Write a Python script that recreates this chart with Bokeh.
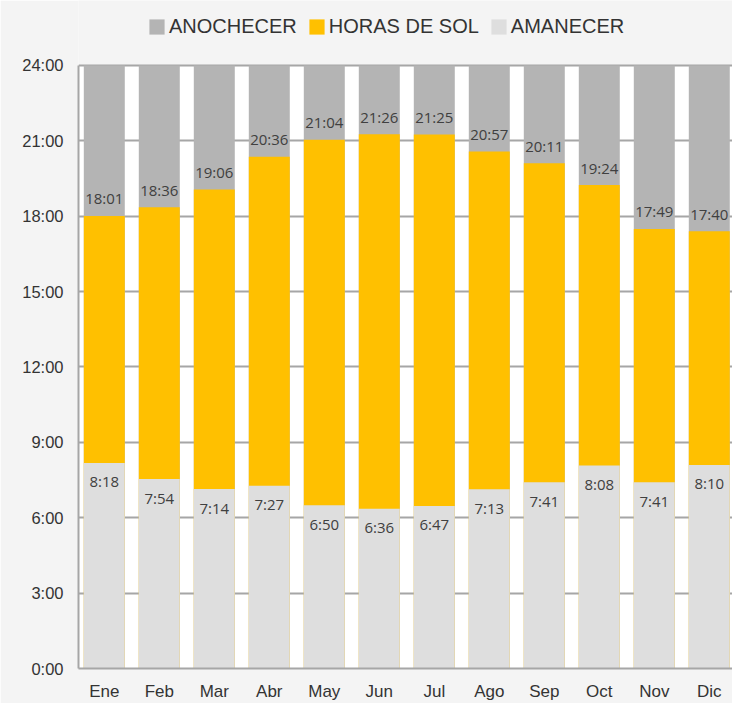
from bokeh.plotting import figure
from bokeh.models import (ColumnDataSource, Range1d, FixedTicker, LabelSet,
                          Legend, LegendItem, BoxAnnotation)
from bokeh.core.properties import value
from bokeh.embed import file_html
from bokeh.resources import INLINE

# ---- data ----
months = ["Ene", "Feb", "Mar", "Abr", "May", "Jun", "Jul", "Ago", "Sep", "Oct", "Nov", "Dic"]
amanecer_labels = ["8:18", "7:54", "7:14", "7:27", "6:50", "6:36", "6:47", "7:13", "7:41", "8:08", "7:41", "8:10"]
anochecer_labels = ["18:01", "18:36", "19:06", "20:36", "21:04", "21:26", "21:25", "20:57", "20:11", "19:24", "17:49", "17:40"]
amanecer = [8.18, 7.54, 7.14, 7.27, 6.50, 6.36, 6.47, 7.13, 7.41, 8.08, 7.41, 8.10]
anochecer = [18.01, 18.36, 19.06, 20.36, 21.04, 21.26, 21.25, 20.57, 20.11, 19.24, 17.49, 17.40]
dia = [24] * 12
y_ticks = [0, 3, 6, 9, 12, 15, 18, 21, 24]
y_tick_labels = ["0:00", "3:00", "6:00", "9:00", "12:00", "15:00", "18:00", "21:00", "24:00"]

x = list(range(len(months)))
src = ColumnDataSource(dict(x=x, amanecer=amanecer, anochecer=anochecer, dia=dia,
                            am_lab=amanecer_labels, an_lab=anochecer_labels))

C_NOCHE = "#b4b4b4"
C_SOL = "#ffc000"
C_AM = "#dedede"
GRID = "#a6a6a6"
TXT = "#333333"
PAGE_BG = "#f4f4f4"

H, BOTTOM = 703, 34
y_top = 24 * (H - BOTTOM) / (H - BOTTOM - 65)   # leaves room for the legend above 24:00

p = figure(width=732, height=H, output_backend="svg", toolbar_location=None,
           x_range=Range1d(-0.469, 11.422), y_range=Range1d(0, y_top),
           min_border_left=78, min_border_right=0, min_border_top=0, min_border_bottom=BOTTOM)
p.background_fill_color = PAGE_BG
p.border_fill_color = PAGE_BG
p.outline_line_color = None

# white chart area (0:00 – 24:00), drawn beneath the grid
p.add_layout(BoxAnnotation(bottom=0, top=max(y_ticks), fill_color="white", fill_alpha=1,
                           line_color=None, level="image"))

W = 0.745
r_noche = p.vbar(x="x", top="dia", bottom=0, width=W, source=src, fill_color=C_NOCHE, line_color=None)
r_sol = p.vbar(x="x", top="anochecer", bottom=0, width=W, source=src, fill_color=C_SOL, line_color=None)
r_am = p.vbar(x="x", top="amanecer", bottom=0, width=W, source=src, fill_color=C_AM, line_color=None)

lab_font = value("Open Sans")
p.add_layout(LabelSet(x="x", y="anochecer", text="an_lab", source=src, text_align="center",
                      text_baseline="middle", y_offset=17.5, text_font=lab_font,
                      text_font_size=value("15px"), text_color=value("#404040")))
p.add_layout(LabelSet(x="x", y="amanecer", text="am_lab", source=src, text_align="center",
                      text_baseline="middle", y_offset=-18.5, text_font=lab_font,
                      text_font_size=value("15px"), text_color=value("#404040")))

# axes
p.xaxis.ticker = FixedTicker(ticks=x)
p.xaxis.major_label_overrides = {i: m for i, m in zip(x, months)}
p.yaxis.ticker = FixedTicker(ticks=y_ticks)
p.yaxis.major_label_overrides = {t: l for t, l in zip(y_ticks, y_tick_labels)}
p.yaxis.bounds = (0, max(y_ticks))
for ax in (p.xaxis, p.yaxis):
    ax.axis_line_color = GRID
    ax.axis_line_width = 2
    ax.major_tick_line_color = None
    ax.minor_tick_line_color = None
    ax.major_tick_out = 0
    ax.major_tick_in = 0
    ax.major_label_text_font = "Liberation Sans"
    ax.major_label_text_color = TXT
p.xaxis.major_label_text_font_size = "17px"
p.xaxis.major_label_standoff = 13
p.yaxis.major_label_text_font_size = "16.5px"
p.yaxis.major_label_standoff = 15

p.xgrid.grid_line_color = None
p.ygrid.ticker = FixedTicker(ticks=y_ticks)
p.ygrid.grid_line_color = GRID
p.ygrid.grid_line_width = 2

legend = Legend(items=[LegendItem(label="ANOCHECER", renderers=[r_noche]),
                       LegendItem(label="HORAS DE SOL", renderers=[r_sol]),
                       LegendItem(label="AMANECER", renderers=[r_am])],
                orientation="horizontal", location=(69, 630),
                padding=0, margin=0, spacing=10, label_standoff=3, label_width=0,
                glyph_width=19, glyph_height=19, label_height=19,
                border_line_color=None, background_fill_alpha=0,
                label_text_font="Liberation Sans", label_text_font_size="20px",
                label_text_color=TXT)
p.add_layout(legend, "center")

open("out.html", "w").write(file_html(p, INLINE))
